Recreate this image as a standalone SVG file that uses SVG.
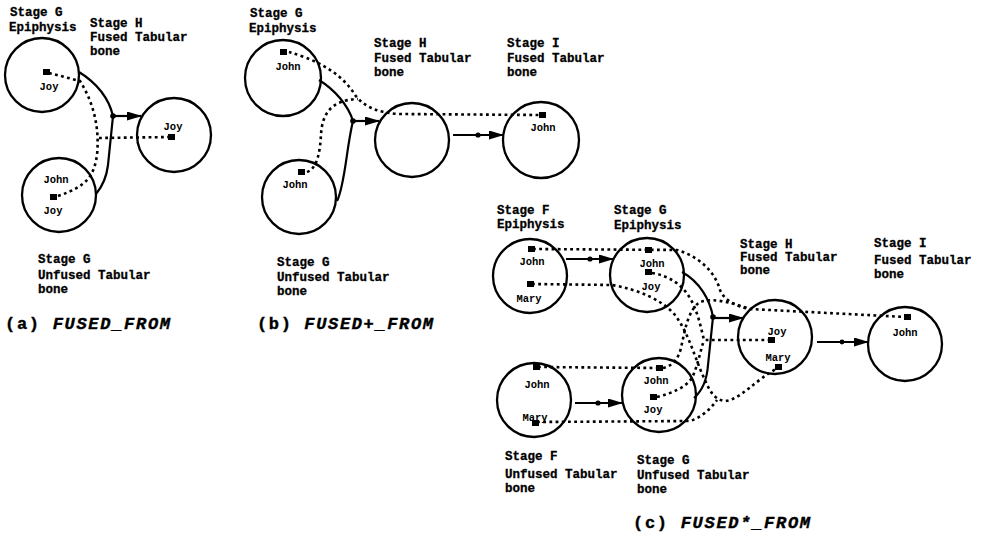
<svg xmlns="http://www.w3.org/2000/svg" width="982" height="537" viewBox="0 0 982 537">
<style>
.bg{fill:#fff}
.node{fill:none;stroke:#000;stroke-width:2.3}
.lbl{font-family:"Liberation Mono","DejaVu Sans Mono",monospace;font-weight:bold;font-size:12.5px;fill:#000;stroke:#000;stroke-width:0.3}
.nm{font-family:"Liberation Mono","DejaVu Sans Mono",monospace;font-weight:bold;font-size:10.5px;fill:#000;text-anchor:middle}
.cap{font-family:"Liberation Mono","DejaVu Sans Mono",monospace;font-weight:bold;font-size:17px;fill:#000;stroke:#000;stroke-width:0.4}
.it{font-style:italic}
.sq{fill:#000}
.fuse{fill:none;stroke:#000;stroke-width:2.2}
.arr{fill:none;stroke:#000;stroke-width:2.2;marker-end:url(#ah)}
.dot{fill:none;stroke:#000;stroke-width:2.6;stroke-dasharray:2.8 3.4}
.jn{fill:#000}
</style>
<defs>
<marker id="ah" markerUnits="userSpaceOnUse" markerWidth="15" markerHeight="9" refX="14" refY="4.5" orient="auto">
<path d="M0,0 L15,4.5 L0,9 z" fill="#000"/>
</marker>
</defs>
<rect class="bg" x="0" y="0" width="982" height="537"/>

<!-- connectors -->
<g id="connectors">
<!-- (a) -->
<path class="fuse" d="M79,72 C95,82 108,95 113,116"/>
<path class="fuse" d="M96,194 Q106,182 108,165 L113,116"/>
<path class="arr" d="M113,116 L141,116"/>
<circle class="jn" cx="113" cy="116" r="2.8"/>
<path class="dot" d="M49,73 L80,81 C92,100 100,125 97,155 C94,175 88,186 58,196"/>
<path class="dot" d="M99,138 L171,137"/>
<!-- (b) -->
<path class="fuse" d="M319,80 C335,90 348,105 353,121"/>
<path class="fuse" d="M337,201 C345,185 346,150 353,121"/>
<path class="arr" d="M353,121 L379,121"/>
<circle class="jn" cx="353" cy="121" r="2.8"/>
<path class="arr" d="M453,135 L503,135"/>
<circle class="jn" cx="478" cy="135" r="2.6"/>
<path class="dot" d="M289,52 C310,58 340,70 355,95 C365,108 380,113 400,114 L540,115"/>
<path class="dot" d="M307,172 C318,168 320,150 321,135 C322,115 330,100 358,99"/>
<!-- (c) -->
<path class="fuse" d="M682,272 C700,282 710,300 713,317"/>
<path class="fuse" d="M694,398 C703,390 707,380 708,365 L713,317"/>
<path class="arr" d="M713,318 L743,318"/>
<circle class="jn" cx="713" cy="317" r="2.8"/>
<path class="arr" d="M566,259 L613,259"/>
<circle class="jn" cx="590" cy="259" r="2.6"/>
<path class="arr" d="M575,403 L622,403"/>
<circle class="jn" cx="598" cy="403" r="2.6"/>
<path class="arr" d="M817,342 L868,342"/>
<circle class="jn" cx="842" cy="342" r="2.4"/>
<path class="dot" d="M533,249 L677,250 C700,257 715,272 720,290 C724,300 735,306 750,309 L906,317"/>
<path class="dot" d="M538,367 L660,368"/>
<path class="dot" d="M663,368 C672,366 678,360 681,348 C685,330 688,310 700,302 C715,297 735,304 750,309"/>
<path class="dot" d="M652,273 C670,276 682,285 690,298 C698,312 701,328 704,340 L771,340"/>
<path class="dot" d="M657,397 C672,393 685,388 692,378 C698,365 700,352 704,340"/>
<path class="dot" d="M532,284 L612,285 C640,290 662,300 675,315 C690,335 695,360 705,380 C710,392 715,400 725,401 C740,400 755,380 778,368"/>
<path class="dot" d="M537,422 L690,421 C700,418 710,410 717,400"/>
</g>

<!-- (a) nodes -->
<g id="a-epi-g">
<circle class="node" cx="42" cy="75" r="37"/>
<rect class="sq" x="43" y="69" width="7" height="6"/>
<text class="nm" x="49" y="90">Joy</text>
</g>
<g id="a-unf-g">
<circle class="node" cx="59" cy="195" r="37"/>
<text class="nm" x="56" y="183">John</text>
<rect class="sq" x="50" y="194" width="7" height="6"/>
<text class="nm" x="53" y="214">Joy</text>
</g>
<g id="a-fused-h">
<circle class="node" cx="174" cy="135" r="37"/>
<text class="nm" x="173" y="130">Joy</text>
<rect class="sq" x="168" y="134" width="7" height="6"/>
</g>
<g id="a-labels">
<text class="lbl" x="10" y="16">Stage G</text>
<text class="lbl" x="9" y="31">Epiphysis</text>
<text class="lbl" x="90" y="27">Stage H</text>
<text class="lbl" x="90" y="41">Fused Tabular</text>
<text class="lbl" x="90" y="55">bone</text>
<text class="lbl" x="38" y="263">Stage G</text>
<text class="lbl" x="38" y="279">Unfused Tabular</text>
<text class="lbl" x="38" y="293">bone</text>
<text class="cap" x="5" y="329" textLength="165" lengthAdjust="spacing">(a) <tspan class="it">FUSED_FROM</tspan></text>
</g>

<!-- (b) nodes -->
<g id="b-epi-g">
<circle class="node" cx="283" cy="78" r="38"/>
<rect class="sq" x="280" y="49" width="7" height="6"/>
<text class="nm" x="288" y="70">John</text>
</g>
<g id="b-unf-g">
<circle class="node" cx="299" cy="197" r="37"/>
<rect class="sq" x="298" y="169" width="7" height="6"/>
<text class="nm" x="295" y="188">John</text>
</g>
<g id="b-fused-h">
<circle class="node" cx="412" cy="140" r="37"/>
</g>
<g id="b-fused-i">
<circle class="node" cx="541" cy="140" r="38"/>
<rect class="sq" x="539" y="112" width="7" height="6"/>
<text class="nm" x="543" y="131">John</text>
</g>
<g id="b-labels">
<text class="lbl" x="250" y="17">Stage G</text>
<text class="lbl" x="249" y="32">Epiphysis</text>
<text class="lbl" x="374" y="47">Stage H</text>
<text class="lbl" x="374" y="62">Fused Tabular</text>
<text class="lbl" x="374" y="76">bone</text>
<text class="lbl" x="507" y="47">Stage I</text>
<text class="lbl" x="507" y="62">Fused Tabular</text>
<text class="lbl" x="507" y="76">bone</text>
<text class="lbl" x="277" y="266">Stage G</text>
<text class="lbl" x="277" y="281">Unfused Tabular</text>
<text class="lbl" x="277" y="295">bone</text>
<text class="cap" x="257" y="329" textLength="176" lengthAdjust="spacing">(b) <tspan class="it">FUSED+_FROM</tspan></text>
</g>

<!-- (c) nodes -->
<g id="c-epi-f">
<circle class="node" cx="530" cy="276" r="37"/>
<rect class="sq" x="528" y="246" width="7" height="6"/>
<text class="nm" x="532" y="265">John</text>
<rect class="sq" x="527" y="281" width="7" height="6"/>
<text class="nm" x="529" y="302">Mary</text>
</g>
<g id="c-epi-g">
<circle class="node" cx="647" cy="275" r="37"/>
<rect class="sq" x="645" y="247" width="7" height="6"/>
<text class="nm" x="652" y="267">John</text>
<rect class="sq" x="645" y="269" width="7" height="6"/>
<text class="nm" x="651" y="290">Joy</text>
</g>
<g id="c-unf-f">
<circle class="node" cx="534" cy="400" r="37"/>
<rect class="sq" x="533" y="364" width="7" height="6"/>
<text class="nm" x="537" y="388">John</text>
<text class="nm" x="535" y="421">Mary</text>
<rect class="sq" x="532" y="420" width="7" height="6"/>
</g>
<g id="c-unf-g">
<circle class="node" cx="659" cy="395" r="37"/>
<rect class="sq" x="656" y="365" width="7" height="6"/>
<text class="nm" x="656" y="384">John</text>
<rect class="sq" x="650" y="394" width="7" height="6"/>
<text class="nm" x="653" y="413">Joy</text>
</g>
<g id="c-fused-h">
<circle class="node" cx="775" cy="337" r="37"/>
<text class="nm" x="777" y="335">Joy</text>
<rect class="sq" x="768" y="337" width="7" height="6"/>
<text class="nm" x="778" y="361">Mary</text>
<rect class="sq" x="775" y="364" width="7" height="6"/>
</g>
<g id="c-fused-i">
<circle class="node" cx="905" cy="344" r="37"/>
<rect class="sq" x="904" y="314" width="7" height="6"/>
<text class="nm" x="905" y="336">John</text>
</g>
<g id="c-labels">
<text class="lbl" x="497" y="214">Stage F</text>
<text class="lbl" x="497" y="228">Epiphysis</text>
<text class="lbl" x="614" y="214">Stage G</text>
<text class="lbl" x="614" y="229">Epiphysis</text>
<text class="lbl" x="740" y="248">Stage H</text>
<text class="lbl" x="740" y="261">Fused Tabular</text>
<text class="lbl" x="740" y="274">bone</text>
<text class="lbl" x="874" y="247">Stage I</text>
<text class="lbl" x="874" y="264">Fused Tabular</text>
<text class="lbl" x="874" y="278">bone</text>
<text class="lbl" x="505" y="460">Stage F</text>
<text class="lbl" x="505" y="478">Unfused Tabular</text>
<text class="lbl" x="505" y="492">bone</text>
<text class="lbl" x="637" y="464">Stage G</text>
<text class="lbl" x="637" y="479">Unfused Tabular</text>
<text class="lbl" x="637" y="493">bone</text>
<text class="cap" x="633" y="528" textLength="177" lengthAdjust="spacing">(c) <tspan class="it">FUSED*_FROM</tspan></text>
</g>
</svg>
